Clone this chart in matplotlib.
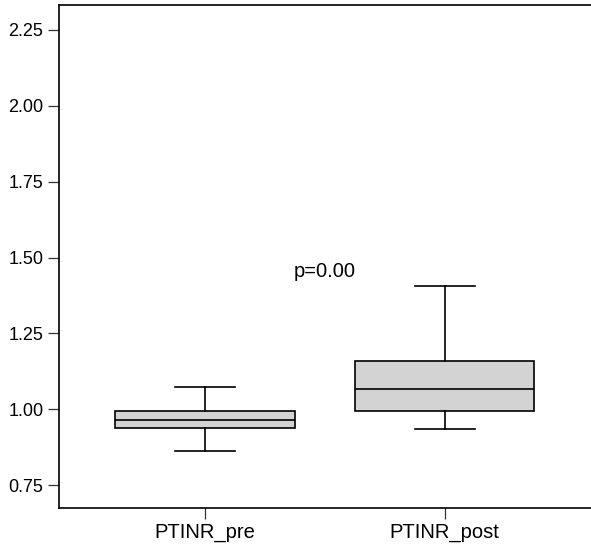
import matplotlib
matplotlib.use("Agg")
import matplotlib.pyplot as plt

# PT-INR before and after, summary values for each group
groups = ["PTINR_pre", "PTINR_post"]
whisker_low = [0.863, 0.935]
q1 = [0.939, 0.995]
medians = [0.966, 1.066]
q3 = [0.995, 1.160]
whisker_high = [1.073, 1.407]
p_text = "p=0.00"
p_pos = (1.5, 1.453)

y_ticks = [0.75, 1.00, 1.25, 1.50, 1.75, 2.00, 2.25]

plt.rcParams['font.family'] = ['Liberation Sans', 'DejaVu Sans']

stats = []
for i in range(len(groups)):
    stats.append({
        "label": groups[i],
        "whislo": whisker_low[i],
        "q1": q1[i],
        "med": medians[i],
        "q3": q3[i],
        "whishi": whisker_high[i],
        "fliers": [],
    })

fig = plt.figure(figsize=(5.91, 5.48), dpi=100)
ax = fig.add_axes([0.0993, 0.0735, 0.9007, 0.9168])

lw = 1.2
ax.bxp(stats, positions=[1, 2], widths=0.747, capwidths=0.249,
       patch_artist=True, showfliers=False,
       boxprops=dict(facecolor="#d3d3d3", edgecolor="black", linewidth=lw),
       medianprops=dict(color="black", linewidth=lw),
       whiskerprops=dict(color="black", linewidth=lw),
       capprops=dict(color="black", linewidth=lw))

ax.text(p_pos[0], p_pos[1], p_text, ha="center", va="center", fontsize=14.5)

ax.set_xlim(0.39, 2.61)
ax.set_ylim(0.676, 2.331)
ax.set_yticks(y_ticks)
ax.set_yticklabels([f"{v:.2f}" for v in y_ticks], fontsize=13)
ax.set_xticks([1, 2])
ax.set_xticklabels(groups, fontsize=14.5)

ax.spines["right"].set_visible(False)
for side in ["left", "top", "bottom"]:
    ax.spines[side].set_linewidth(lw)
ax.tick_params(axis="both", length=8, width=0.9, color="#333333")
ax.tick_params(axis="y", pad=3)
ax.tick_params(axis="x", pad=3)

plt.savefig("out.png", dpi=100)
